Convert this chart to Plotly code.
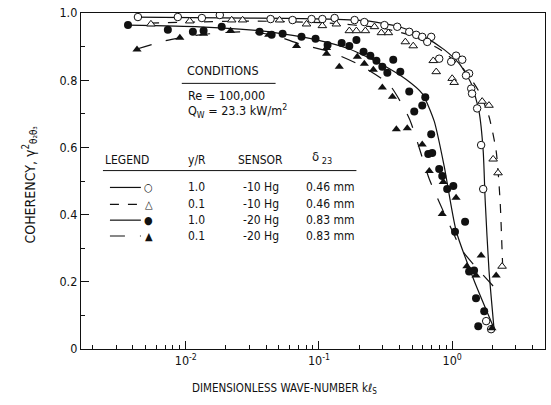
import plotly.graph_objects as go

# ---------------- data ----------------
# open circles: y/R = 1.0, -10 Hg
oc_k = [0.00437, 0.00871, 0.0132, 0.0180, 0.0433, 0.0633, 0.0879, 0.106, 0.131, 0.185, 0.219,
        0.310, 0.387, 0.476, 0.537, 0.596, 0.696, 0.650, 0.799, 0.983, 1.07, 1.19, 1.34, 1.27,
        1.39, 1.41, 1.54, 1.65, 1.71, 1.80, 1.96]
oc_c = [0.988, 0.988, 0.985, 0.994, 0.982, 0.979, 0.982, 0.982, 0.985, 0.979, 0.973,
        0.964, 0.959, 0.944, 0.935, 0.929, 0.929, 0.914, 0.864, 0.855, 0.873, 0.861, 0.820, 0.814,
        0.775, 0.760, 0.716, 0.607, 0.476, 0.083, 0.059]
# open triangles: y/R = 0.1, -10 Hg
ot_k = [0.00547, 0.0107, 0.0221, 0.0267, 0.0506, 0.0806, 0.106, 0.135, 0.169, 0.191, 0.223,
        0.261, 0.294, 0.332, 0.445, 0.510, 0.721, 0.759, 1.00, 1.035, 1.68, 1.89, 2.03, 2.21, 2.37]
ot_c = [0.967, 0.976, 0.979, 0.979, 0.979, 0.967, 0.962, 0.967, 0.947, 0.947, 0.947,
        0.959, 0.941, 0.941, 0.914, 0.902, 0.858, 0.825, 0.805, 0.793, 0.737, 0.725, 0.565, 0.524, 0.246]
# filled circles: y/R = 1.0, -20 Hg
fc_k = [0.00368, 0.00733, 0.0113, 0.0136, 0.0186, 0.0358, 0.0441, 0.0533, 0.0739, 0.0942, 0.116,
        0.148, 0.169, 0.191, 0.216, 0.243, 0.270, 0.299, 0.326, 0.361, 0.408, 0.476, 0.519, 0.628,
        0.596, 0.696, 0.661, 0.708, 0.799, 0.842, 0.917, 1.02, 1.25, 1.05, 1.34, 1.46, 1.51, 1.74, 1.57]
fc_c = [0.964, 0.950, 0.944, 0.947, 0.959, 0.944, 0.935, 0.938, 0.929, 0.923, 0.905,
        0.911, 0.902, 0.920, 0.885, 0.873, 0.858, 0.840, 0.822, 0.861, 0.825, 0.766, 0.707, 0.749,
        0.725, 0.639, 0.580, 0.583, 0.536, 0.515, 0.476, 0.485, 0.379, 0.349, 0.231, 0.234, 0.151, 0.112, 0.068]
# filled triangles: y/R = 0.1, -20 Hg
ft_k = [0.00430, 0.00902, 0.0136, 0.0217, 0.0419, 0.0678, 0.114, 0.114, 0.142, 0.194, 0.219,
        0.256, 0.299, 0.356, 0.381, 0.460, 0.596, 0.673, 0.857, 1.07, 0.842, 1.65, 1.29, 1.51, 2.14, 1.99]
ft_c = [0.891, 0.926, 0.938, 0.947, 0.935, 0.902, 0.896, 0.879, 0.840, 0.870, 0.849,
        0.831, 0.778, 0.751, 0.654, 0.657, 0.609, 0.530, 0.497, 0.450, 0.402, 0.278, 0.246, 0.219, 0.219, 0.062]

# faired curves
c1_k = [0.00415, 0.0301, 0.120, 0.239, 0.401, 0.617, 0.871, 1.13, 1.39, 1.59, 1.71, 1.77, 1.89, 2.06]
c1_c = [0.988, 0.985, 0.982, 0.976, 0.959, 0.929, 0.891, 0.849, 0.790, 0.707, 0.589, 0.441, 0.234, 0.062]
c2_k = [0.00537, 0.0301, 0.120, 0.284, 0.476, 0.799, 1.23, 1.59, 1.89, 2.14, 2.29, 2.37, 2.41]
c2_c = [0.970, 0.976, 0.970, 0.956, 0.935, 0.893, 0.831, 0.766, 0.692, 0.589, 0.441, 0.293, 0.219]
c3_k = [0.00368, 0.0127, 0.0301, 0.0533, 0.0959, 0.169, 0.299, 0.452, 0.596, 0.733, 0.871, 1.07, 1.46, 2.06]
c3_c = [0.964, 0.959, 0.950, 0.938, 0.920, 0.893, 0.846, 0.802, 0.760, 0.678, 0.544, 0.352, 0.204, 0.062]
c4_k = [0.00430, 0.00696, 0.0127, 0.0254, 0.0448, 0.0714, 0.120, 0.201, 0.337, 0.476, 0.673, 0.902, 1.19, 2.17]
c4_c = [0.893, 0.917, 0.935, 0.944, 0.935, 0.908, 0.885, 0.846, 0.787, 0.686, 0.506, 0.391, 0.293, 0.175]

x_ticks = [0.01, 0.1, 1]
x_tick_text = ["10<sup>-2</sup>", "10<sup>-1</sup>", "10<sup>0</sup>"]
x_minor = [m * 10 ** e for e in (-3, -2, -1, 0) for m in range(2, 10)]
y_ticks = [0, 0.2, 0.4, 0.6, 0.8, 1.0]
y_tick_text = ["0", "0.2", "0.4", "0.6", "0.8", "1.0"]

leg_yr = ["1.0", "0.1", "1.0", "0.1"]
leg_sensor = ["-10 Hg", "-10 Hg", "-20 Hg", "-20 Hg"]
leg_delta = ["0.46 mm", "0.46 mm", "0.83 mm", "0.83 mm"]
leg_sym = ["○", "△", "●", "▲"]
leg_dash = ["solid", "dash", "solid", "longdash"]

FONT = "DejaVu Sans Condensed, Liberation Sans Narrow, Liberation Sans, Arial"
BLACK = "#111111"

# ---------------- figure ----------------
fig = go.Figure()
for k, c, d in [(c1_k, c1_c, "solid"), (c2_k, c2_c, "dash"), (c3_k, c3_c, "solid"), (c4_k, c4_c, "longdash")]:
    fig.add_trace(go.Scatter(x=k, y=c, mode="lines", line=dict(color=BLACK, width=1.2, dash=d, shape="spline", smoothing=0.6),
                             showlegend=False, hoverinfo="skip"))
fig.add_trace(go.Scatter(x=oc_k, y=oc_c, mode="markers",
                         marker=dict(symbol="circle", size=7.5, color="white", line=dict(color=BLACK, width=1)), showlegend=False))
fig.add_trace(go.Scatter(x=ot_k, y=ot_c, mode="markers",
                         marker=dict(symbol="triangle-up", size=7.5, color="white", line=dict(color=BLACK, width=1)), showlegend=False))
fig.add_trace(go.Scatter(x=fc_k, y=fc_c, mode="markers",
                         marker=dict(symbol="circle", size=8, color=BLACK, line=dict(width=0)), showlegend=False))
fig.add_trace(go.Scatter(x=ft_k, y=ft_c, mode="markers",
                         marker=dict(symbol="triangle-up", size=8, color=BLACK, line=dict(width=0)), showlegend=False))

# plot-area geometry (pixels) for placing decorations
L, R, T, B = 81, 546, 10, 349
def px(x):
    return (x - L) / (R - L)
def py(y):
    return (B - y) / (B - T)

ann = []
shapes = []
def txt(x, y, s, anchor="left", size=12):
    ann.append(dict(xref="paper", yref="paper", x=px(x), y=py(y), text=s, showarrow=False,
                    xanchor=anchor, yanchor="middle", font=dict(family=FONT, size=size, color=BLACK)))

txt(185, 68, "CONDITIONS", size=12.5)
shapes.append(dict(type="line", xref="paper", yref="paper", x0=px(182), x1=px(276), y0=py(81), y1=py(81),
                   line=dict(color=BLACK, width=1)))
txt(186, 93, "Re = 100,000", size=12.5)
txt(186, 109, "Q<sub>W</sub> = 23.3 kW/m<sup>2</sup>", size=12.5)

txt(103, 158, "LEGEND")
txt(186, 158, "y/R")
txt(236, 158, "SENSOR")
txt(310, 156, "δ<sub> 23</sub>", size=13)
shapes.append(dict(type="line", xref="paper", yref="paper", x0=px(103), x1=px(357), y0=py(169), y1=py(169),
                   line=dict(color=BLACK, width=1)))
row_y = [186, 203, 219, 235]
for i in range(4):
    y = row_y[i]
    shapes.append(dict(type="line", xref="paper", yref="paper", x0=px(110), x1=px(141), y0=py(y), y1=py(y),
                       line=dict(color=BLACK, width=1.2, dash=leg_dash[i])))
    txt(149, y, leg_sym[i], anchor="center", size=11)
    txt(186, y, leg_yr[i])
    txt(281, y, leg_sensor[i], anchor="right")
    txt(358, y, leg_delta[i], anchor="right")

# axis titles
ann.append(dict(xref="paper", yref="paper", x=px(285), y=-(389 - B) / (B - T), text="DIMENSIONLESS WAVE-NUMBER kℓ<sub>S</sub>",
                showarrow=False, xanchor="center", yanchor="middle", font=dict(family=FONT, size=11.5, color=BLACK)))
ann.append(dict(xref="paper", yref="paper", x=(30 - L) / (R - L), y=py(183), text="COHERENCY, γ<sup>2</sup><sub>θ₂θ₃</sub>",
                showarrow=False, textangle=-90, xanchor="center", yanchor="middle", font=dict(family=FONT, size=14, color=BLACK)))

fig.update_layout(
    width=551, height=405,
    margin=dict(l=L, r=551 - R, t=T, b=405 - B),
    paper_bgcolor="white", plot_bgcolor="white",
    annotations=ann, shapes=shapes,
    font=dict(family=FONT, size=12, color=BLACK),
)
fig.update_xaxes(type="log", range=[-2.787, 0.697], showgrid=False, zeroline=False,
                 showline=True, linecolor=BLACK, linewidth=1.3, mirror=True,
                 tickmode="array", tickvals=x_ticks, ticktext=x_tick_text, ticks="inside", ticklen=8,
                 tickcolor=BLACK, tickfont=dict(family=FONT, size=12.5),
                 minor=dict(tickmode="array", tickvals=x_minor, ticks="inside", ticklen=4, tickcolor=BLACK))
fig.update_yaxes(range=[0, 1.0], showgrid=False, zeroline=False,
                 showline=True, linecolor=BLACK, linewidth=1.3, mirror=True,
                 tickmode="array", tickvals=y_ticks, ticktext=y_tick_text, ticks="inside", ticklen=8,
                 tickcolor=BLACK, tickfont=dict(family=FONT, size=12.5),
                 minor=dict(tickmode="array", tickvals=[0.1, 0.3, 0.5, 0.7, 0.9], ticks="inside", ticklen=4, tickcolor=BLACK))

fig.write_html("out.html")
